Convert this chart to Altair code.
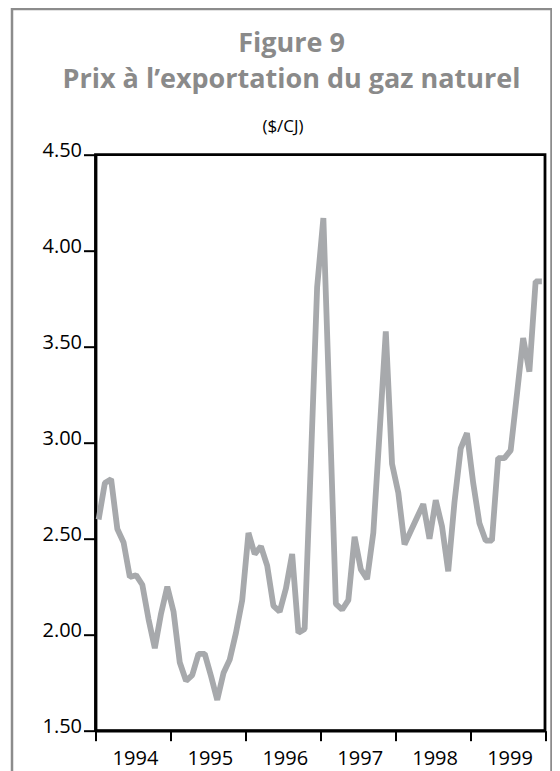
import altair as alt
import pandas as pd

# Monthly natural gas export prices ($/CJ), Jan 1994 - Dec 1999
years = [1994, 1995, 1996, 1997, 1998, 1999]
prices = [
    2.60, 2.79, 2.81, 2.55, 2.48, 2.30, 2.31, 2.26, 2.08, 1.93, 2.11, 2.25,   # 1994
    2.12, 1.855, 1.76, 1.79, 1.90, 1.90, 1.785, 1.66, 1.80, 1.87, 2.01, 2.18,  # 1995
    2.53, 2.42, 2.46, 2.36, 2.15, 2.12, 2.24, 2.42, 2.01, 2.03, 2.90, 3.81,   # 1996
    4.17, 3.17, 2.16, 2.13, 2.18, 2.51, 2.34, 2.29, 2.53, 3.05, 3.58, 2.89,   # 1997
    2.74, 2.47, 2.54, 2.61, 2.68, 2.50, 2.70, 2.565, 2.33, 2.69, 2.97, 3.05,  # 1998
    2.79, 2.58, 2.49, 2.49, 2.92, 2.92, 2.96, 3.25, 3.545, 3.37, 3.84, 3.84,  # 1999
]
y_ticks = [1.5, 2.0, 2.5, 3.0, 3.5, 4.0, 4.5]
year_ticks = years + [2000]
title_lines = ["Figure 9", "Prix à l’exportation du gaz naturel"]
subtitle = "($/CJ)"

# mid-month position on a decimal-year scale
t = [years[0] + (i + 0.5) / 12 for i in range(len(prices))]
df = pd.DataFrame({"t": t, "prix": prices})

W, H = 449.5, 576
FONT = "Open Sans"
one = alt.Data(values=[{}])

line = alt.Chart(df).mark_line(
    color="#a7a9ac", strokeWidth=5.8, strokeJoin="bevel", strokeCap="butt"
).encode(
    x=alt.X("t:Q",
            scale=alt.Scale(domain=[1994, 2000], nice=False, zero=False),
            axis=alt.Axis(values=year_ticks, format="d",
                          labelExpr="datum.value >= 2000 ? '' : datum.label",
                          labelOffset=W / 12 + 2, labelFlush=False, labelOverlap=False,
                          labelBound=False, labelPadding=8, tickSize=10),
            title=None),
    y=alt.Y("prix:Q",
            scale=alt.Scale(domain=[1.5, 4.5], nice=False, zero=False),
            axis=alt.Axis(values=y_ticks, format=".2f", tickSize=12,
                          labelPadding=2, labelBaseline="middle", labelOffset=-4),
            title=None),
)

border = alt.Chart(one).mark_rect(
    fillOpacity=0, stroke="#8c8c8c", strokeWidth=2.5
).encode(
    x=alt.value(12 - 95.5), x2=alt.value(551.5 - 95.5),
    y=alt.value(9 - 154.7), y2=alt.value(700),
)

title1 = alt.Chart(one).mark_text(
    text=title_lines[0], font=FONT, fontSize=27, fontWeight="bold",
    color="#8a8a8a", align="center", baseline="alphabetic",
).encode(x=alt.value(196), y=alt.value(-103))

title2 = alt.Chart(one).mark_text(
    text=title_lines[1], font=FONT, fontSize=27, fontWeight="bold",
    color="#8a8a8a", align="center", baseline="alphabetic",
).encode(x=alt.value(196), y=alt.value(-67))

sub = alt.Chart(one).mark_text(
    text=subtitle, font=FONT, fontSize=17, color="black",
    align="center", baseline="alphabetic",
).encode(x=alt.value(187.5), y=alt.value(-23))

chart = alt.layer(border, title1, title2, sub, line).properties(
    width=W, height=H,
    autosize=alt.AutoSizeParams(type="none"),
    padding={"left": 87.5, "top": 146.7, "right": 7, "bottom": 40},
).configure_view(
    stroke="black", strokeWidth=2.8
).configure_axis(
    labelFont=FONT, labelFontSize=20, labelColor="black",
    domainColor="black", domainWidth=2.8, tickColor="black", tickWidth=2,
    grid=False,
)

chart.save("out.html", embed_options={"renderer": "svg", "actions": False})
